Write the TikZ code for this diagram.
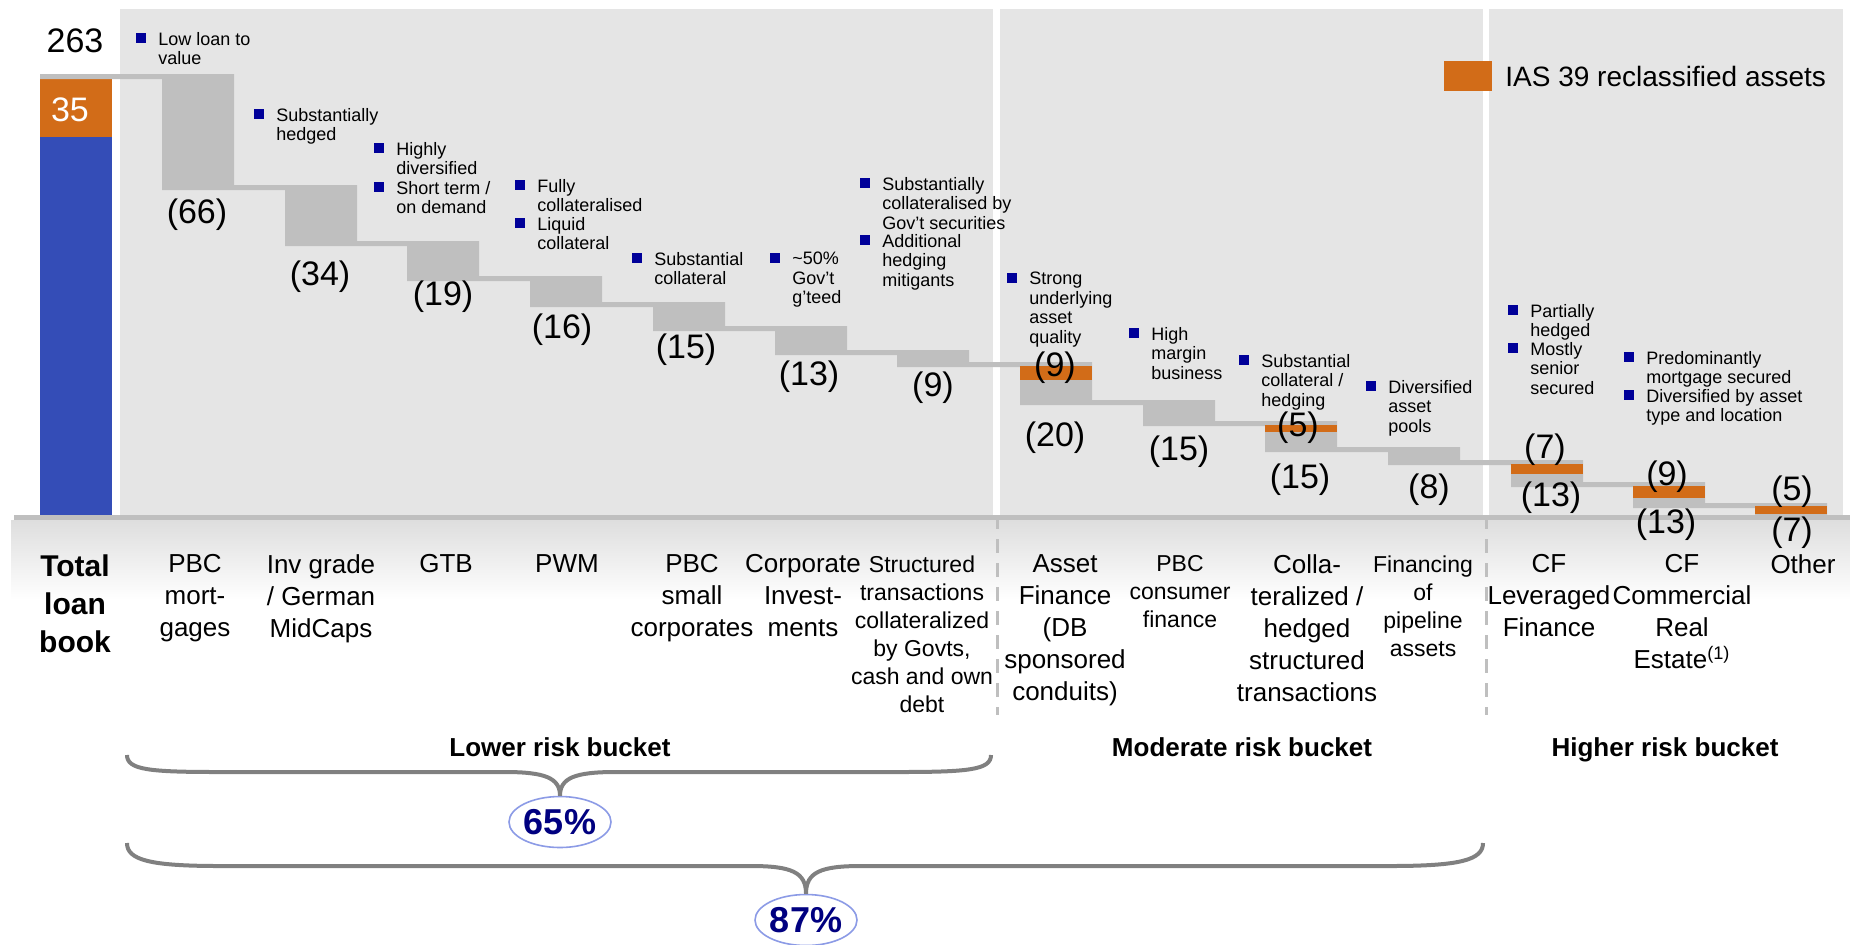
\documentclass[tikz,border=0pt]{standalone}
\usepackage{fontspec}
\setmainfont{Liberation Sans}
\usepackage{xcolor}
\definecolor{loanblue}{RGB}{52,77,183}
\definecolor{iasorange}{RGB}{210,108,24}
\definecolor{panelgrey}{RGB}{229,229,229}
\definecolor{bargrey}{RGB}{191,191,191}
\definecolor{bulletblue}{RGB}{0,0,153}
\definecolor{pctblue}{RGB}{0,0,128}
\definecolor{ringblue}{RGB}{140,155,230}
\definecolor{bracegrey}{RGB}{128,128,128}
\usepackage{tikz}
\usetikzlibrary{shapes.geometric}

% blue square plus its text lines
\newcommand{\riskpoint}[4]{%
  \fill[bulletblue] (#2,#3) rectangle +(10,10);
  \node[note, xshift=11pt, yshift=0.5pt] (#1) at (#2,#3) {#4};}

\begin{document}
\begin{tikzpicture}[x=0.5pt, y=-0.5pt,
  note/.style={anchor=north west, align=left, inner sep=0pt, font=\fontsize{9}{9.75}\selectfont},
  val/.style={inner sep=0pt, font=\fontsize{17}{17}\selectfont},
  cat/.style={anchor=north, align=center, inner sep=0pt, font=\fontsize{13}{16}\selectfont},
  catsmall/.style={cat, font=\fontsize{11.5}{14}\selectfont},
  bucket/.style={anchor=base, font=\bfseries\fontsize{13}{13}\selectfont},
  pct/.style={ellipse, draw=ringblue, line width=0.8pt, fill=white, minimum width=51pt,
    minimum height=25.5pt, inner sep=0pt, text=pctblue, font=\bfseries\fontsize{18}{18}\selectfont},
  brace/.style={draw=bracegrey, line width=2pt}]
  \useasboundingbox (0,0) rectangle (1850,944);

  % panels and axis
  \fill[panelgrey] (120,9) rectangle (993,515);
  \fill[panelgrey] (1000,9) rectangle (1483,515);
  \fill[panelgrey] (1489,9) rectangle (1843,515);
  \shade[top color=black!13, bottom color=white] (11,520) rectangle (1850,600);
  \fill[bargrey] (14,515) rectangle (1850,520);
  \draw[bargrey, line width=1.5pt, dash pattern=on 7pt off 5pt] (997,515) -- (997,715);
  \draw[bargrey, line width=1.5pt, dash pattern=on 7pt off 5pt] (1486,515) -- (1486,715);

  % total loan book
  \fill[loanblue] (40,137) rectangle (112,515);
  \fill[iasorange] (40,79) rectangle (112,137);
  \node[val] (total) at (75,41) {263};
  \node[val, text=white] (ias) at (70,110) {35};

  % steps
  \fill[bargrey] (40,74) rectangle (234,79) (162,74) rectangle (234,185);
  \fill[bargrey] (162,185) rectangle (357,190) (285,185) rectangle (357,241);
  \fill[bargrey] (285,241) rectangle (479,246) (407,241) rectangle (479,276);
  \fill[bargrey] (407,276) rectangle (602,281) (530,276) rectangle (602,302);
  \fill[bargrey] (530,302) rectangle (725,307) (653,302) rectangle (725,326);
  \fill[bargrey] (653,326) rectangle (847,331) (775,326) rectangle (847,350);
  \fill[bargrey] (775,350) rectangle (969,355) (897,350) rectangle (969,362);
  \fill[bargrey] (897,362) rectangle (1092,367) (1020,362) rectangle (1092,400);
  \fill[bargrey] (1020,400) rectangle (1215,405) (1143,400) rectangle (1215,421);
  \fill[bargrey] (1143,421) rectangle (1337,426) (1265,421) rectangle (1337,447);
  \fill[bargrey] (1265,447) rectangle (1460,452) (1388,447) rectangle (1460,460);
  \fill[bargrey] (1388,460) rectangle (1583,465) (1511,460) rectangle (1583,482);
  \fill[bargrey] (1511,482) rectangle (1705,487) (1633,482) rectangle (1705,503);
  \fill[bargrey] (1633,503) rectangle (1827,508) (1755,503) rectangle (1827,515);
  \fill[iasorange] (1020,366) rectangle (1092,380);
  \fill[iasorange] (1265,425) rectangle (1337,432);
  \fill[iasorange] (1511,464) rectangle (1583,474);
  \fill[iasorange] (1633,486) rectangle (1705,498);
  \fill[iasorange] (1755,506) rectangle (1827,514);

  % values
  \node[val] (v1) at (197,215) {(66)};
  \node[val] (v2) at (320,277) {(34)};
  \node[val] (v3) at (443,297) {(19)};
  \node[val] (v4) at (562,330) {(16)};
  \node[val] (v5) at (686,350) {(15)};
  \node[val] (v6) at (809,377) {(13)};
  \node[val] (v7) at (933,388) {(9)};
  \node[val] (v8a) at (1055,368) {(9)};
  \node[val] (v8) at (1055,438) {(20)};
  \node[val] (v9) at (1179,452) {(15)};
  \node[val] (v10a) at (1298,428) {(5)};
  \node[val] (v10) at (1300,480) {(15)};
  \node[val] (v11) at (1429,490) {(8)};
  \node[val] (v12a) at (1545,450) {(7)};
  \node[val] (v12) at (1551,498) {(13)};
  \node[val] (v13a) at (1667,477) {(9)};
  \node[val] (v13) at (1666,525) {(13)};
  \node[val] (v14a) at (1792,492) {(5)};
  \node[val] (v14) at (1792,533) {(7)};

  % legend
  \fill[iasorange] (1444,61) rectangle (1492,91);
  \node[anchor=west, inner sep=0pt, font=\fontsize{14}{14}\selectfont] (legend) at (1505,76) {IAS 39 reclassified assets};

  % comments on each step
  \riskpoint{n1}{136}{33}{Low loan to\\value}
  \riskpoint{n2}{254}{109}{Substantially\\hedged}
  \riskpoint{n3}{374}{143}{Highly\\diversified}
  \riskpoint{n4}{374}{182}{Short term /\\on demand}
  \riskpoint{n5}{515}{180}{Fully\\collateralised}
  \riskpoint{n6}{515}{218}{Liquid\\collateral}
  \riskpoint{n7}{632}{253}{Substantial\\collateral}
  \riskpoint{n8}{770}{253}{\textasciitilde50\%\\Gov't\\g'teed}
  \riskpoint{n9}{860}{178}{Substantially\\collateralised by\\Gov't securities}
  \riskpoint{n10}{860}{235}{Additional\\hedging\\mitigants}
  \riskpoint{n11}{1007}{273}{Strong\\underlying\\asset\\quality}
  \riskpoint{n12}{1129}{328}{High\\margin\\business}
  \riskpoint{n13}{1239}{355}{Substantial\\collateral /\\hedging}
  \riskpoint{n14}{1366}{381}{Diversified\\asset\\pools}
  \riskpoint{n15}{1508}{305}{Partially\\hedged}
  \riskpoint{n16}{1508}{343}{Mostly\\senior\\secured}
  \riskpoint{n17}{1624}{352}{Predominantly\\mortgage secured}
  \riskpoint{n18}{1624}{390}{Diversified by asset\\type and location}

  % categories
  \node[cat, font=\bfseries\fontsize{15}{19}\selectfont] (c0) at (75,554) {Total\\loan\\book};
  \node[cat] (c1) at (195,554) {PBC\\mort-\\gages};
  \node[cat] (c2) at (321,554) {Inv grade\\/ German\\MidCaps};
  \node[cat] (c3) at (446,554) {GTB};
  \node[cat] (c4) at (567,554) {PWM};
  \node[cat] (c5) at (692,554) {PBC\\small\\corporates};
  \node[cat] (c6) at (803,554) {Corporate\\Invest-\\ments};
  \node[catsmall] (c7) at (922,555) {Structured\\transactions\\collateralized\\by Govts,\\cash and own\\debt};
  \node[cat] (c8) at (1065,554) {Asset\\Finance\\(DB\\sponsored\\conduits)};
  \node[catsmall] (c9) at (1180,555) {PBC\\consumer\\finance};
  \node[cat] (c10) at (1307,554) {Colla-\\teralized /\\hedged\\structured\\transactions};
  \node[catsmall] (c11) at (1423,555) {Financing\\of\\pipeline\\assets};
  \node[cat] (c12) at (1549,554) {CF\\Leveraged\\Finance};
  \node[cat] (c13) at (1682,554) {CF\\Commercial\\Real\\Estate\textsuperscript{(1)}};
  \node[cat] (c14) at (1803,554) {Other};

  % buckets
  \node[bucket] (lower) at (560,756) {Lower risk bucket};
  \node[bucket] (moderate) at (1242,756) {Moderate risk bucket};
  \node[bucket] (higher) at (1665,756) {Higher risk bucket};

  \node[pct] (p65) at (560,822) {65\%};
  \node[pct] (p87) at (806,920) {87\%};
  \draw[brace] (127,755) .. controls (127,770) and (150,772) .. (220,772) -- (505,772)
    .. controls (545,772) and (560,778) .. (p65.north)
    .. controls (560,778) and (575,772) .. (615,772) -- (898,772)
    .. controls (968,772) and (991,770) .. (991,755);
  \draw[brace] (127,843) .. controls (127,860) and (150,866) .. (220,866) -- (751,866)
    .. controls (791,866) and (806,872) .. (p87.north)
    .. controls (806,872) and (821,866) .. (861,866) -- (1390,866)
    .. controls (1460,866) and (1483,860) .. (1483,843);
\end{tikzpicture}
\end{document}
